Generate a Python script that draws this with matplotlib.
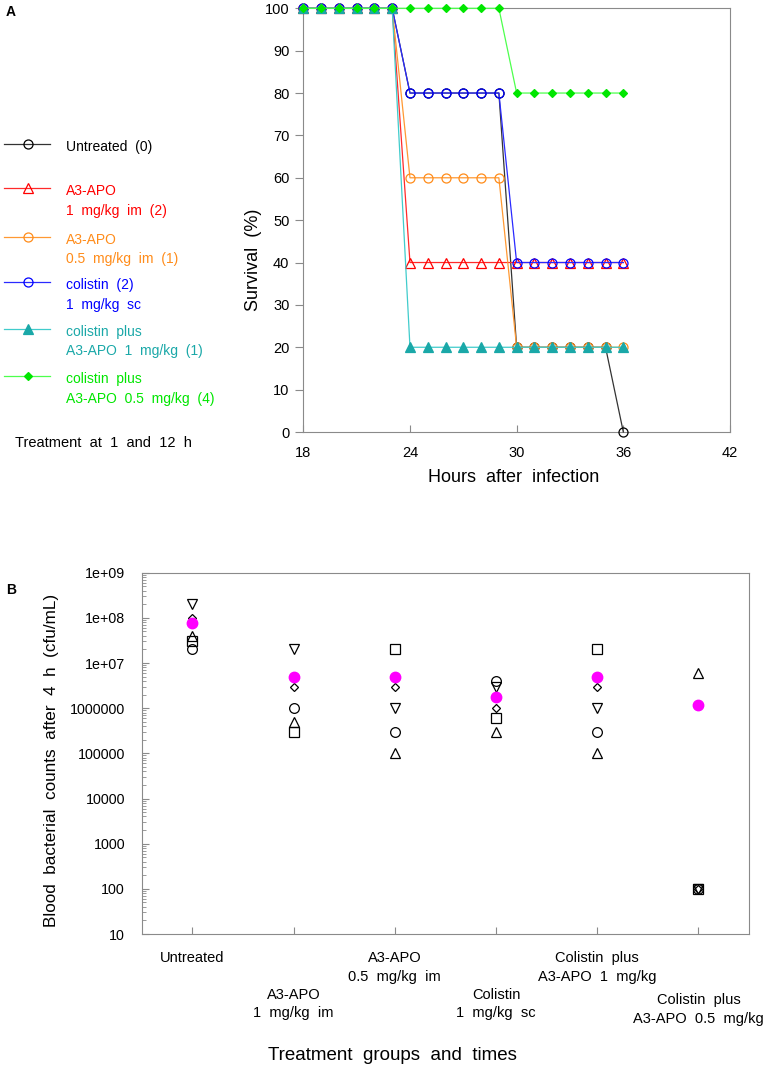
import numpy as np
import matplotlib.pyplot as plt
import matplotlib.transforms as mtransforms
from matplotlib.ticker import LogLocator, NullFormatter, FixedLocator

plt.rcParams['font.family'] = ['Liberation Sans', 'DejaVu Sans']

# ---- panel A: survival (%) by hour after infection
hours = [18, 19, 20, 21, 22, 23, 24, 25, 26, 27, 28, 29, 30, 31, 32, 33, 34, 35, 36]
surv_untreated = [100, 100, 100, 100, 100, 100, 80, 80, 80, 80, 80, 80, 20, 20, 20, 20, 20, 20, 0]
surv_a3_1 = [100, 100, 100, 100, 100, 100, 40, 40, 40, 40, 40, 40, 40, 40, 40, 40, 40, 40, 40]
surv_a3_05 = [100, 100, 100, 100, 100, 100, 60, 60, 60, 60, 60, 60, 20, 20, 20, 20, 20, 20, 20]
surv_col = [100, 100, 100, 100, 100, 100, 80, 80, 80, 80, 80, 80, 40, 40, 40, 40, 40, 40, 40]
surv_col_a3_1 = [100, 100, 100, 100, 100, 100, 20, 20, 20, 20, 20, 20, 20, 20, 20, 20, 20, 20, 20]
surv_col_a3_05 = [100, 100, 100, 100, 100, 100, 100, 100, 100, 100, 100, 100, 80, 80, 80, 80, 80, 80, 80]

legend_labels = [["Untreated  (0)"],
                 ["A3-APO", "1  mg/kg  im  (2)"],
                 ["A3-APO", "0.5  mg/kg  im  (1)"],
                 ["colistin  (2)", "1  mg/kg  sc"],
                 ["colistin  plus", "A3-APO  1  mg/kg  (1)"],
                 ["colistin  plus", "A3-APO  0.5  mg/kg  (4)"]]

# ---- panel B: blood counts (cfu/mL) per animal, 5 animals / group
groups = [["Untreated"],
          ["A3-APO", "1  mg/kg  im"],
          ["A3-APO", "0.5  mg/kg  im"],
          ["Colistin", "1  mg/kg  sc"],
          ["Colistin  plus", "A3-APO  1  mg/kg"],
          ["Colistin  plus", "A3-APO  0.5  mg/kg"]]
cfu_circle = [2e7, 1e6, 3e5, 4e6, 3e5, 100]
cfu_square = [3e7, 3e5, 2e7, 6e5, 2e7, 100]
cfu_up = [4e7, 5e5, 1e5, 3e5, 1e5, 6e6]
cfu_down = [2e8, 2e7, 1e6, 3e6, 1e6, 100]
cfu_diamond = [1e8, 3e6, 3e6, 1e6, 3e6, 100]
ytick_vals = [10, 100, 1000, 10000, 100000, 1000000, 1e7, 1e8, 1e9]
ytick_text = ["10", "100", "1000", "10000", "100000", "1000000", "1e+07", "1e+08", "1e+09"]

W, H = 765, 1068
fig = plt.figure(figsize=(W / 100, H / 100), dpi=100)

def rect(l, t, r, b):
    return [l / W, 1 - b / H, (r - l) / W, (b - t) / H]

spine_c = '#8a8a8a'

# %% panel A
axA = fig.add_axes(rect(303.3, 8.3, 730, 432))
seriesA = [
    (surv_untreated, '#000000', 'o', 'none'),
    (surv_a3_1, '#ff0000', '^', 'none'),
    (surv_a3_05, '#ff8c1a', 'o', 'none'),
    (surv_col, '#0000ff', 'o', 'none'),
    (surv_col_a3_1, '#1aa8a8', '^', 'fill'),
    (surv_col_a3_05, '#00e600', 'D', 'fill'),
]
line_cols = ['#333333', '#ff2a2a', '#ff9933', '#2a2aff', '#40cccc', '#4dff4d']
for i, (vals, c, m, f) in enumerate(seriesA):
    ms = 4.5 if m == 'D' else 6.5
    axA.plot(hours, vals, color=line_cols[i], lw=0.9, marker=m, ms=ms,
             mfc=c if f == 'fill' else 'none', mec=c, mew=0.9,
             clip_on=False, zorder=3 + i)
axA.set_xlim(18, 42)
axA.set_ylim(0, 100)
axA.set_xticks([18, 24, 30, 36, 42])
axA.set_yticks(np.arange(0, 101, 10))
axA.tick_params(axis='y', direction='out', length=6, pad=4, color=spine_c, labelsize=10.5)
axA.tick_params(axis='x', direction='in', length=5, pad=10, color=spine_c, labelsize=10.5)
for s in axA.spines.values():
    s.set_color(spine_c)
fig.text(254 / W, 1 - 260 / H, "Survival  (%)", rotation=90, ha='center', va='center', fontsize=13)
fig.text(514 / W, 1 - 478 / H, "Hours  after  infection", ha='center', va='center', fontsize=13)

# %% legend of panel A, drawn by hand on an overlay
axL = fig.add_axes([0, 0, 1, 1])
axL.set_xlim(0, W)
axL.set_ylim(H, 0)
axL.axis('off')
leg_y = [144, 188, 237, 282, 329, 376]
for i, (vals, c, m, f) in enumerate(seriesA):
    ms = 4.5 if m == 'D' else 6.5
    y = leg_y[i]
    axL.plot([4, 50], [y, y], color=line_cols[i], lw=0.9)
    axL.plot([28], [y], marker=m, ms=ms, mfc=c if f == 'fill' else 'none', mec=c, mew=0.9)
    for j, t in enumerate(legend_labels[i]):
        axL.text(66, y + 3 + j * 19.5, t, color=c, fontsize=10, va='center', ha='left')
axL.text(15, 443, "Treatment  at  1  and  12  h", fontsize=10.5, va='center', ha='left')
axL.text(6, 12, "A", fontsize=10, fontweight='bold', va='center')
axL.text(6, 590, "B", fontsize=10, fontweight='bold', va='center')

# %% panel B
axB = fig.add_axes(rect(141.7, 572.7, 749, 934))
xpos = np.arange(1, len(groups) + 1)
mk = dict(mfc='none', mec='black', mew=0.9, ls='none', clip_on=False)
axB.plot(xpos, cfu_circle, marker='o', ms=7, **mk)
axB.plot(xpos, cfu_square, marker='s', ms=7, **mk)
axB.plot(xpos, cfu_up, marker='^', ms=7.5, **mk)
axB.plot(xpos, cfu_down, marker='v', ms=7.5, **mk)
axB.plot(xpos, cfu_diamond, marker='D', ms=4.5, **mk)
cfu_mean = np.mean([cfu_circle, cfu_square, cfu_up, cfu_down, cfu_diamond], axis=0)
axB.plot(xpos, cfu_mean, marker='o', ms=7.5, color='#ff00ff', mec='#ff00ff', ls='none')
axB.set_yscale('log')
axB.set_ylim(10, 1e9)
axB.set_xlim(0.5, 6.5)
axB.yaxis.set_major_locator(FixedLocator(ytick_vals))
axB.set_yticklabels(ytick_text)
axB.yaxis.set_minor_locator(LogLocator(base=10, subs=np.arange(2, 10), numticks=100))
axB.yaxis.set_minor_formatter(NullFormatter())
axB.set_xticks(xpos)
axB.set_xticklabels([])
axB.tick_params(axis='y', which='major', direction='in', length=5, pad=12, color=spine_c, labelsize=10.3)
axB.tick_params(axis='y', which='minor', direction='in', length=3, color=spine_c)
axB.tick_params(axis='x', direction='in', length=5, color=spine_c)
for s in axB.spines.values():
    s.set_color(spine_c)

# group names in two staggered rows below the axis
trB = mtransforms.blended_transform_factory(axB.transData, fig.transFigure)
row_top = [958, 995, 958, 995, 958, 1000]
for k, lines in enumerate(groups):
    for j, t in enumerate(lines):
        axB.text(xpos[k], 1 - (row_top[k] + j * 18.5) / H, t, transform=trB,
                 ha='center', va='center', fontsize=10.5, clip_on=False)

fig.text(52 / W, 1 - 760 / H, "Blood  bacterial  counts  after  4  h  (cfu/mL)",
         rotation=90, ha='center', va='center', fontsize=12.3)
fig.text(392 / W, 1 - 1056 / H, "Treatment  groups  and  times", ha='center', va='center', fontsize=13.5)

fig.savefig("out.png", dpi=100)
